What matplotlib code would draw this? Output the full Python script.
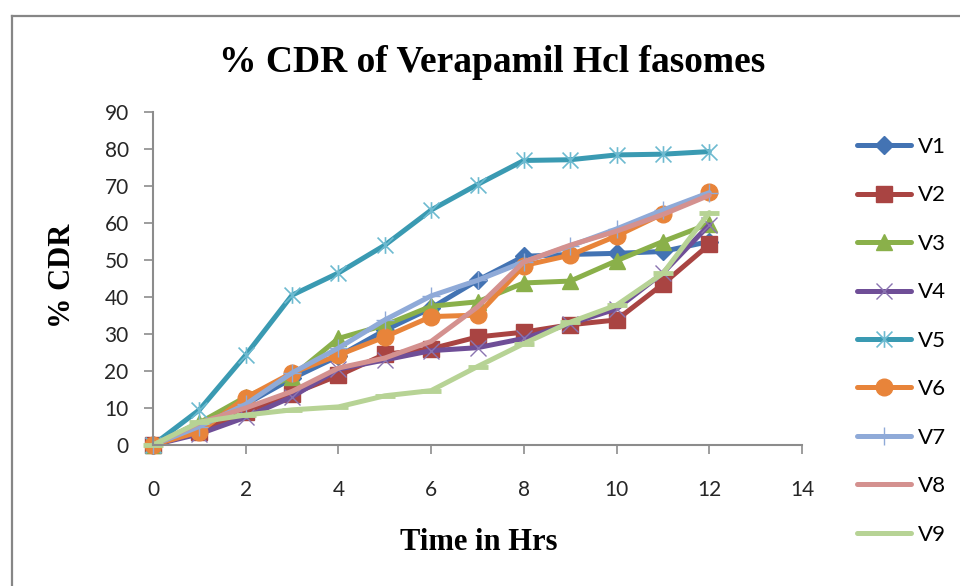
import matplotlib
matplotlib.use("Agg")
import matplotlib.pyplot as plt
from matplotlib.path import Path
from matplotlib.lines import Line2D

hours = [0, 1, 2, 3, 4, 5, 6, 7, 8, 9, 10, 11, 12]
labels = ["V1", "V2", "V3", "V4", "V5", "V6", "V7", "V8", "V9"]
V1 = [0, 5, 11, 18, 24, 31, 37, 44.5, 51, 51.5, 51.8, 52.3, 55]
V2 = [0, 3.5, 9, 13.8, 18.8, 24.5, 26, 29.2, 30.5, 32.5, 33.8, 43.5, 54.2]
V3 = [0, 6, 13, 18.5, 28.8, 32.4, 37.5, 38.7, 43.8, 44.3, 49.8, 55, 59.8]
V4 = [0, 3, 7.5, 13, 20.5, 23, 25.5, 26.3, 28.8, 32.8, 36.8, 46.5, 59.5]
V5 = [0, 9.5, 24.3, 40.5, 46.5, 54, 63.5, 70.4, 76.9, 77.1, 78.4, 78.6, 79.3]
V6 = [0, 3.6, 12.8, 19.5, 24.3, 29.2, 34.7, 35.1, 48.5, 51.3, 56.5, 62.5, 68.3]
V7 = [0, 5, 11, 19.5, 26.2, 33.8, 40.3, 44.5, 49.5, 53.8, 58.4, 63.5, 68.2]
V8 = [0, 6, 10, 14.5, 20.8, 23.5, 28, 37.3, 49.5, 54, 57.8, 62.3, 67.5]
V9 = [0, 6.2, 8.1, 9.5, 10.3, 13.3, 14.7, 21.2, 27.4, 33.2, 37.8, 46.4, 62.8]
series = [V1, V2, V3, V4, V5, V6, V7, V8, V9]

star = Path([(-1, -1), (1, 1), (-1, 1), (1, -1), (0, -1.05), (0, 1.05)],
            [Path.MOVETO, Path.LINETO, Path.MOVETO, Path.LINETO, Path.MOVETO, Path.LINETO])

styles = [
    dict(color="#4373B3", marker="D", ms=9, mfc="#4373B3", mec="#4373B3"),
    dict(color="#A94442", marker="s", ms=11, mfc="#A94442", mec="#A94442"),
    dict(color="#8AB04A", marker="^", ms=12, mfc="#8AB04A", mec="#8AB04A"),
    dict(color="#6F4E97", marker="x", ms=11, mec="#8A74B0", mew=1.0),
    dict(color="#3A9AB2", marker=star, ms=12, mec="#6DBAD0", mfc="none", mew=1.2),
    dict(color="#E8843A", marker="o", ms=12, mfc="#E8843A", mec="#E8843A"),
    dict(color="#8FAAD8", marker="+", ms=13, mec="#8FAAD8", mew=1.0),
    dict(color="#D4918F", marker="None"),
    dict(color="#B7D395", marker="_", ms=14, mec="#B7D395", mew=3.5),
]

fig = plt.figure(figsize=(9.6, 5.86), dpi=100)
ax = fig.add_axes([153 / 960, 1 - 445 / 586, (802 - 153) / 960, (445 - 112) / 586])

for lab, ys, st in zip(labels, series, styles):
    ax.plot(hours, ys, label=lab, lw=3.6, solid_capstyle="round", solid_joinstyle="round", **st)

ax.set_xlim(0, 14)
ax.set_ylim(0, 90)
ax.set_xticks(range(0, 15, 2))
ax.set_yticks(range(0, 91, 10))
for s in ["top", "right"]:
    ax.spines[s].set_visible(False)
for s in ["left", "bottom"]:
    ax.spines[s].set_color("#8C8C8C")
    ax.spines[s].set_linewidth(1.5)
ax.tick_params(axis="both", direction="out", length=6.5, width=1.2, color="#8C8C8C",
               labelsize=15, labelcolor="#262626")
ax.tick_params(axis="y", pad=11)
ax.tick_params(axis="x", pad=19)
for t in ax.get_xticklabels() + ax.get_yticklabels():
    t.set_fontfamily("Lato")
for l in ax.get_lines():
    l.set_clip_on(False)

fig.text(492 / 960, 1 - 62 / 586, "% CDR of Verapamil Hcl fasomes", ha="center", va="center",
         fontsize=27, fontweight="bold", family="Liberation Serif")
fig.text(62 / 960, 1 - 276 / 586, "% CDR", ha="center", va="center", rotation=90,
         fontsize=22, fontweight="bold", family="Liberation Serif")
fig.text(479 / 960, 1 - 542 / 586, "Time in Hrs", ha="center", va="center",
         fontsize=22, fontweight="bold", family="Liberation Serif")

leg = ax.legend(loc="upper left", bbox_to_anchor=(857 / 960, 1 - 137 / 586),
                bbox_transform=fig.transFigure, frameon=False, borderpad=0, borderaxespad=0,
                handlelength=2.45, handletextpad=0.28, labelspacing=1.28,
                prop={"family": "Lato", "size": 16})

fig.add_artist(Line2D([11.5 / 960, 1.0], [1 - 15.5 / 586, 1 - 15.5 / 586],
                      transform=fig.transFigure, color="#868686", lw=1.6))
fig.add_artist(Line2D([11.5 / 960, 11.5 / 960], [0, 1 - 15.5 / 586],
                      transform=fig.transFigure, color="#868686", lw=1.6))

fig.savefig("out.png", dpi=100)
